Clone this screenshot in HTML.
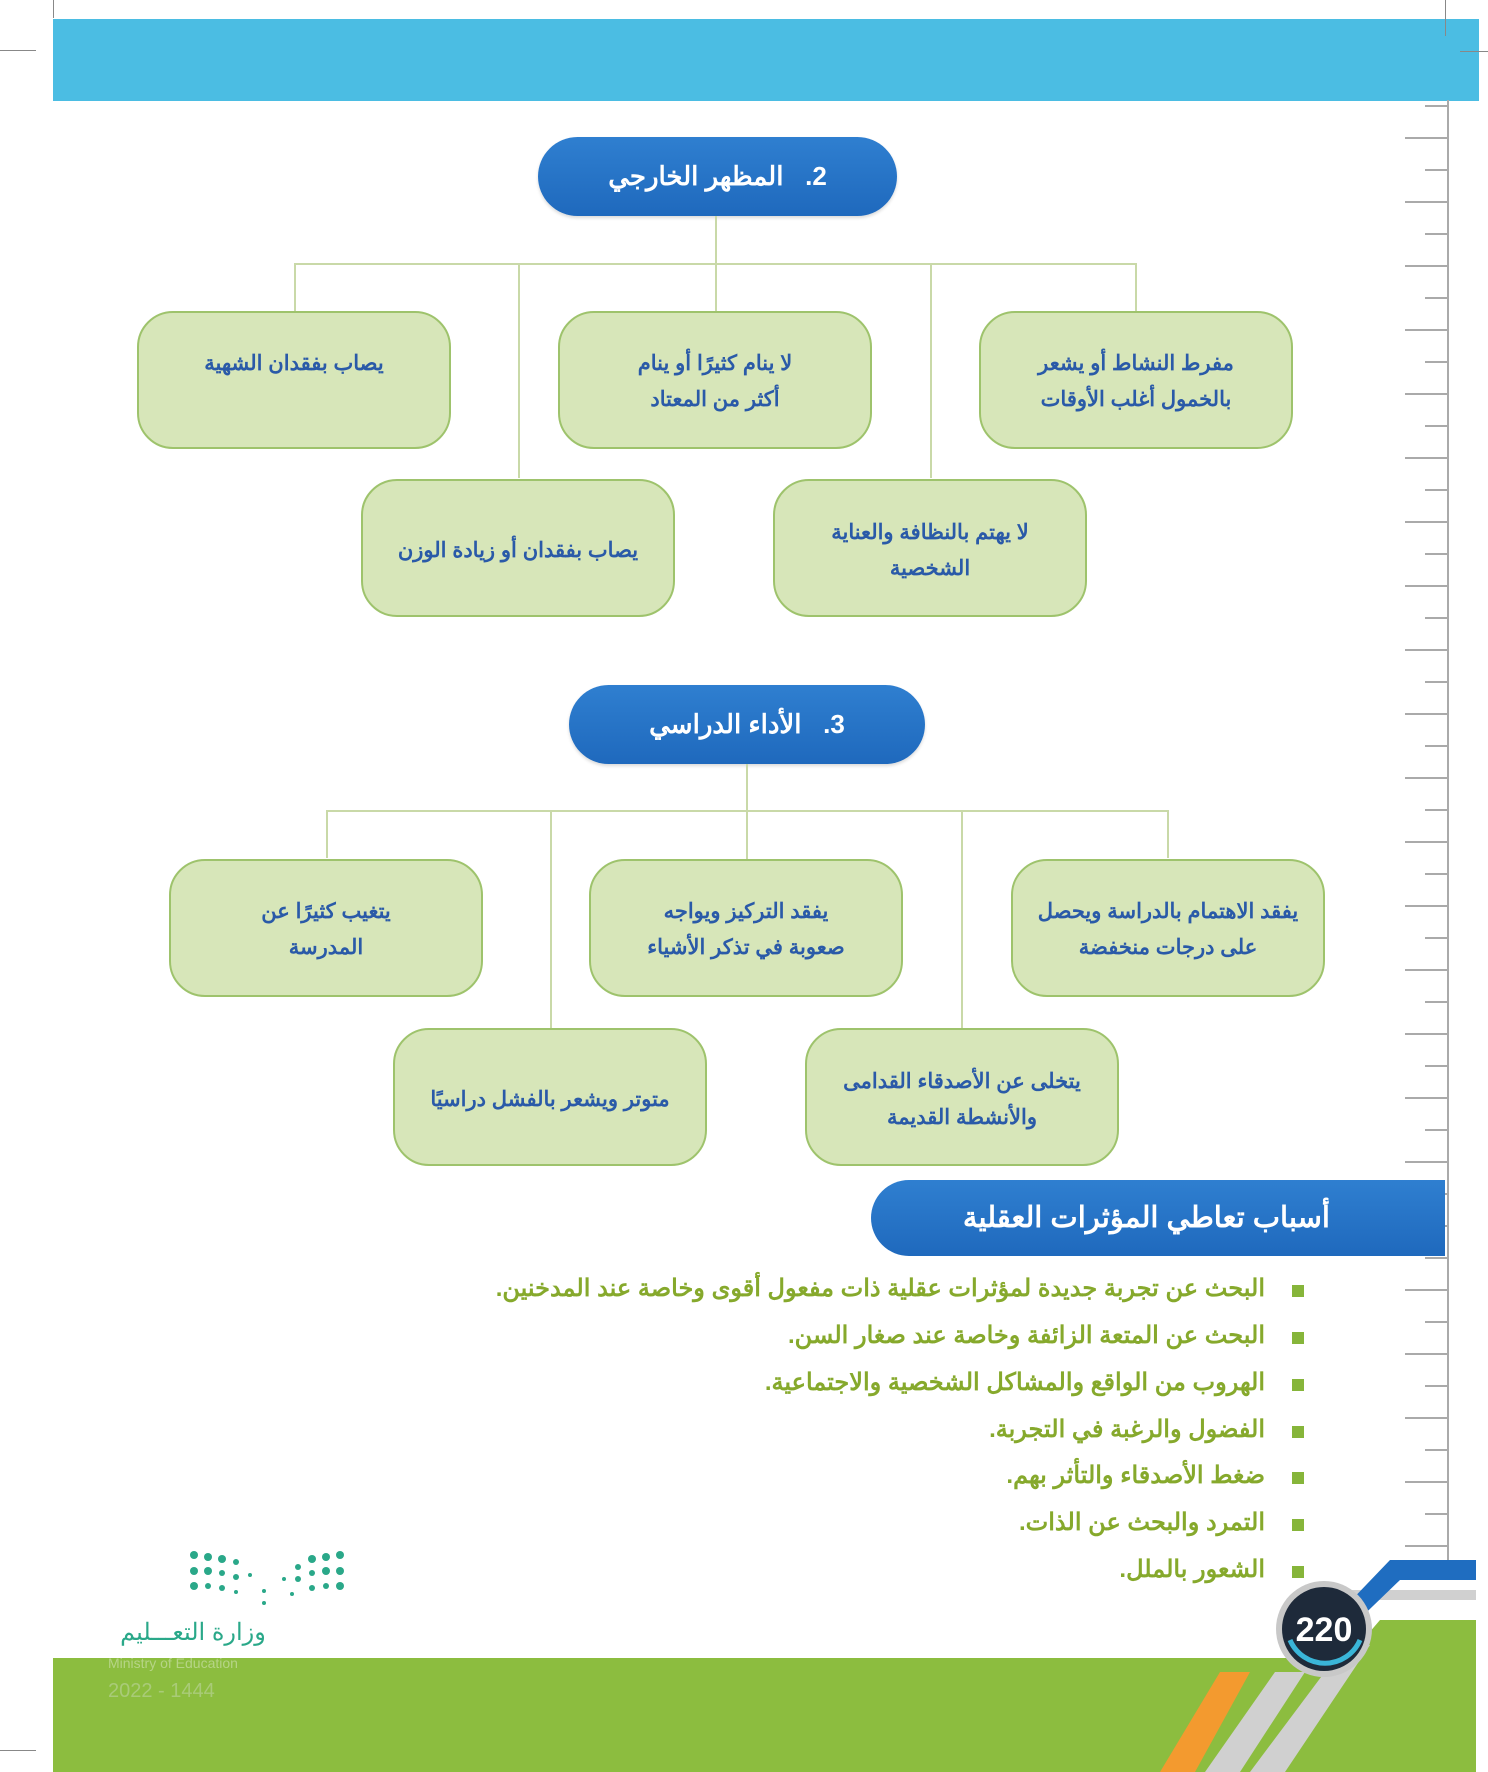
<!DOCTYPE html>
<html><head><meta charset="utf-8"><style>
body{margin:0;width:1488px;height:1772px;position:relative;background:#fff;overflow:hidden;font-family:"Liberation Sans","Noto Sans CJK SC",sans-serif;}
.a{position:absolute}
.hdr{position:absolute;background:linear-gradient(#2f7fd0,#1f69bd);border-radius:40px;color:#fff;font-weight:bold;font-size:26px;text-align:center;direction:rtl;box-shadow:0 2px 3px rgba(0,0,0,.15)}
.bx{position:absolute;width:314px;height:138px;box-sizing:border-box;background:#d7e6b9;border:2px solid #9ec36c;border-radius:36px;color:#2a5aa8;font-weight:bold;font-size:21px;line-height:36px;text-align:center;direction:rtl;padding-top:33px;white-space:nowrap}
.ln{position:absolute;background:#c9d9a8}
.bl{position:absolute;right:223px;direction:rtl;color:#86a92c;font-weight:bold;font-size:24px;white-space:nowrap}
.sq{position:absolute;left:1292px;width:12px;height:12px;background:#86b53a}
</style></head><body>
<div class="a" style="left:53px;top:19px;width:1426px;height:82px;background:#4bbde3"></div>
<div class="a" style="left:53px;top:0;width:1px;height:18px;background:#888"></div>
<div class="a" style="left:0;top:50px;width:36px;height:1px;background:#888"></div>
<div class="a" style="left:1445px;top:0;width:1px;height:36px;background:#888"></div>
<div class="a" style="left:1460px;top:51px;width:28px;height:1px;background:#888"></div>
<div class="a" style="left:0;top:1750px;width:36px;height:1px;background:#888"></div>
<!-- ruler -->
<div class="a" style="left:1447px;top:100px;width:2px;height:1460px;background:#aaa"></div>
<div id="r" class="a" style="left:0;top:0"></div>
<!-- header 2 -->
<div class="hdr" style="left:538px;top:137px;width:359px;height:79px;line-height:79px">2.&nbsp;&nbsp; المظهر الخارجي</div>
<div class="ln" style="left:715px;top:216px;width:2px;height:48px"></div>
<div class="ln" style="left:294px;top:263px;width:843px;height:2px"></div>
<div class="ln" style="left:294px;top:263px;width:2px;height:48px"></div>
<div class="ln" style="left:518px;top:263px;width:2px;height:215px"></div>
<div class="ln" style="left:715px;top:263px;width:2px;height:48px"></div>
<div class="ln" style="left:930px;top:263px;width:2px;height:215px"></div>
<div class="ln" style="left:1135px;top:263px;width:2px;height:48px"></div>
<div class="bx" style="left:137px;top:311px">يصاب بفقدان الشهية</div>
<div class="bx" style="left:558px;top:311px">لا ينام كثيرًا أو ينام<br>أكثر من المعتاد</div>
<div class="bx" style="left:979px;top:311px">مفرط النشاط أو يشعر<br>بالخمول أغلب الأوقات</div>
<div class="bx" style="left:361px;top:479px;padding-top:52px">يصاب بفقدان أو زيادة الوزن</div>
<div class="bx" style="left:773px;top:479px;padding-top:34px">لا يهتم بالنظافة والعناية<br>الشخصية</div>
<!-- header 3 -->
<div class="hdr" style="left:569px;top:685px;width:356px;height:79px;line-height:79px">3.&nbsp;&nbsp; الأداء الدراسي</div>
<div class="ln" style="left:746px;top:764px;width:2px;height:95px"></div>
<div class="ln" style="left:326px;top:810px;width:843px;height:2px"></div>
<div class="ln" style="left:326px;top:810px;width:2px;height:48px"></div>
<div class="ln" style="left:550px;top:810px;width:2px;height:218px"></div>
<div class="ln" style="left:961px;top:810px;width:2px;height:218px"></div>
<div class="ln" style="left:1167px;top:810px;width:2px;height:48px"></div>
<div class="bx" style="left:169px;top:859px">يتغيب كثيرًا عن<br>المدرسة</div>
<div class="bx" style="left:589px;top:859px">يفقد التركيز ويواجه<br>صعوبة في تذكر الأشياء</div>
<div class="bx" style="left:1011px;top:859px">يفقد الاهتمام بالدراسة ويحصل<br>على درجات منخفضة</div>
<div class="bx" style="left:393px;top:1028px;padding-top:52px">متوتر ويشعر بالفشل دراسيًا</div>
<div class="bx" style="left:805px;top:1028px;padding-top:34px">يتخلى عن الأصدقاء القدامى<br>والأنشطة القديمة</div>
<!-- section header -->
<div class="a" style="left:871px;top:1180px;width:574px;height:76px;background:linear-gradient(#2f7fd0,#1f69bd);border-radius:40px 0 0 40px;color:#fff;font-weight:bold;font-size:29px;line-height:76px;direction:rtl;text-align:right;box-sizing:border-box;padding-right:115px;white-space:nowrap">أسباب تعاطي المؤثرات العقلية</div>
<div class="sq" style="top:1285px"></div><div class="bl" style="top:1274px">البحث عن تجربة جديدة لمؤثرات عقلية ذات مفعول أقوى وخاصة عند المدخنين.</div>
<div class="sq" style="top:1332px"></div><div class="bl" style="top:1321px">البحث عن المتعة الزائفة وخاصة عند صغار السن.</div>
<div class="sq" style="top:1379px"></div><div class="bl" style="top:1368px">الهروب من الواقع والمشاكل الشخصية والاجتماعية.</div>
<div class="sq" style="top:1426px"></div><div class="bl" style="top:1415px">الفضول والرغبة في التجربة.</div>
<div class="sq" style="top:1472px"></div><div class="bl" style="top:1461px">ضغط الأصدقاء والتأثر بهم.</div>
<div class="sq" style="top:1519px"></div><div class="bl" style="top:1508px">التمرد والبحث عن الذات.</div>
<div class="sq" style="top:1566px"></div><div class="bl" style="top:1555px">الشعور بالملل.</div>
<!-- bottom -->
<svg class="a" style="left:0;top:1540px" width="1488" height="232">
<polygon points="53,118 1476,118 1476,232 53,232" fill="#8cbd3f"/>
<polygon points="1380,80 1476,80 1476,232 1250,232" fill="#8cbd3f"/>
<polygon points="1250,232 1345,105 1370,105 1285,232" fill="#d0d0d0"/>
<polygon points="1330,50 1476,50 1476,60 1340,60" fill="#d0d0d0"/>
<polygon points="1390,20 1476,20 1476,40 1400,40 1345,93 1320,93" fill="#1f6dc0"/>
<polygon points="1205,232 1275,132 1305,132 1240,232" fill="#d0d0d0"/>
<polygon points="1160,232 1220,132 1250,132 1195,232" fill="#f39a2f"/>
<circle cx="1324" cy="89" r="48" fill="#c8c8c8"/>
<circle cx="1324" cy="89" r="42" fill="#1e2a3a"/>
<path d="M1290 100 A38 38 0 0 0 1360 100" stroke="#3ab5d8" stroke-width="5" fill="none"/>
<text x="1324" y="101" font-family="Liberation Sans" font-weight="bold" font-size="34" fill="#fff" text-anchor="middle">220</text>
</svg>
<svg class="a" style="left:180px;top:1545px" width="180" height="60">
<g fill="#2aa889">
<circle cx="14" cy="10" r="4"/><circle cx="28" cy="12" r="4"/><circle cx="42" cy="14" r="4"/><circle cx="56" cy="17" r="3"/>
<circle cx="14" cy="26" r="4"/><circle cx="28" cy="26" r="4"/><circle cx="42" cy="28" r="3"/><circle cx="56" cy="32" r="3"/><circle cx="70" cy="30" r="2"/>
<circle cx="14" cy="41" r="4"/><circle cx="28" cy="41" r="3"/><circle cx="42" cy="43" r="3"/><circle cx="56" cy="47" r="2"/><circle cx="84" cy="46" r="2"/><circle cx="84" cy="58" r="2"/>
<circle cx="160" cy="10" r="4"/><circle cx="146" cy="12" r="4"/><circle cx="132" cy="14" r="4"/><circle cx="118" cy="22" r="3"/>
<circle cx="160" cy="26" r="4"/><circle cx="146" cy="26" r="4"/><circle cx="132" cy="28" r="3"/><circle cx="118" cy="34" r="3"/><circle cx="104" cy="34" r="2"/>
<circle cx="160" cy="41" r="4"/><circle cx="146" cy="41" r="3"/><circle cx="132" cy="43" r="3"/><circle cx="112" cy="49" r="2"/>
</g></svg>
<div class="a" style="left:108px;top:1618px;font-size:24px;color:#2aa889;direction:rtl;width:170px;text-align:center">وزارة التعـــليم</div>
<div class="a" style="left:108px;top:1655px;font-size:14px;color:#b6d486">Ministry of Education</div>
<div class="a" style="left:108px;top:1680px;font-size:20px;color:#a9cb78">2022 - 1444</div>
<script>
var s='';for(var i=0;i<46;i++){var y=105+i*32;var l=(i%2==1);s+='<div style="position:absolute;left:'+(l?1405:1425)+'px;top:'+y+'px;width:'+(l?43:23)+'px;height:2px;background:#aaa"></div>';}
document.getElementById('r').innerHTML=s;
</script>
</body></html>
